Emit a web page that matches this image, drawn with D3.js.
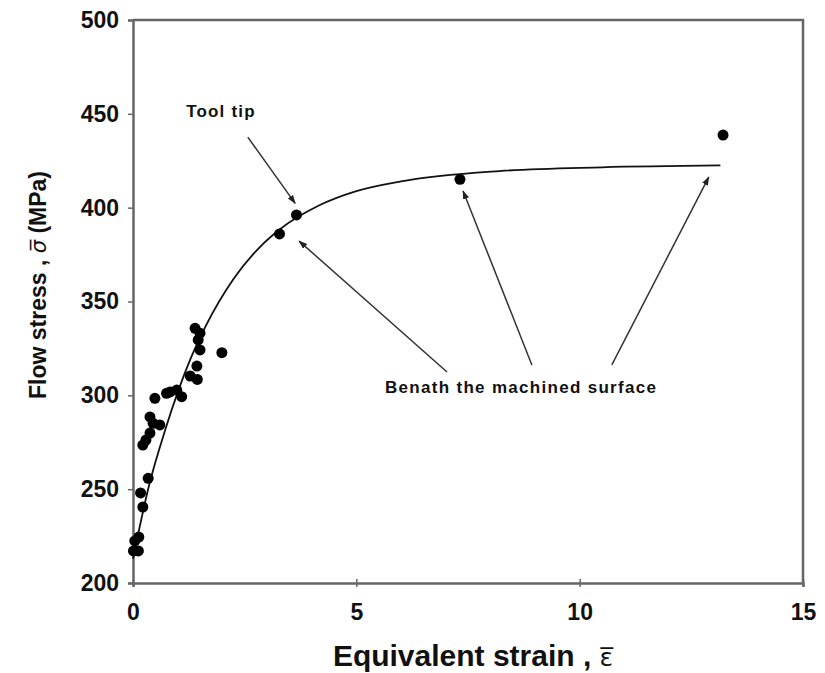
<!DOCTYPE html>
<html>
<head>
<meta charset="utf-8">
<script src="https://cdn.jsdelivr.net/npm/d3@7"></script>
<style>
  body { margin: 0; background: #fff; }
  svg { display: block; }
  text { font-family: "Liberation Sans", Arial, sans-serif; }
</style>
</head>
<body>
<svg id="chart" width="825" height="673"></svg>
<script>
// Measured flow stress (MPa) versus equivalent strain
const strain = [0.01, 0.12, 0.04, 0.13, 0.22, 0.17, 0.34, 0.22, 0.29, 0.38,
                0.45, 0.38, 0.60, 0.49, 0.75, 0.98, 1.09, 0.83, 1.28, 1.44,
                1.43, 1.50, 1.46, 1.50, 1.39, 1.99, 3.66, 3.28, 7.32, 13.21];
const stress = [217.1, 217.1, 222.4, 224.5, 240.5, 248.0, 255.8, 273.5, 276.2, 279.9,
                285.1, 288.5, 284.2, 298.4, 301.1, 302.8, 299.3, 301.8, 310.3, 308.5,
                315.6, 324.2, 329.5, 333.1, 335.7, 322.7, 396.1, 386.0, 415.1, 438.7];

// Fitted hardening curve
const fitStrain = [0, 0.37, 0.72, 1.28, 1.63, 2.25, 2.84, 3.29, 4.15, 5.0, 6.0, 8.2, 10.5, 13.15];
const fitStress = [213, 253, 281.5, 319, 337, 362, 379, 388.5, 401, 408.8, 414, 419.5, 421.5, 422.5];

const xTicks = [0, 5, 10, 15];
const yTicks = [200, 250, 300, 350, 400, 450, 500];

// Annotation arrows, in data units: [fromStrain, fromStress, toStrain, toStress]
const toolTipArrow = [2.57, 437.6, 3.63, 402.3];
const surfaceArrows = [
  [7.03, 312.4, 3.72, 382.2],
  [8.93, 316.2, 7.39, 408.9],
  [10.72, 316.2, 12.89, 416.3]
];

const W = 825, H = 673;
const margin = { top: 20, right: 22, bottom: 90, left: 133 };
const svg = d3.select("#chart");

const x = d3.scaleLinear().domain([0, 15]).range([margin.left, W - margin.right]);
const y = d3.scaleLinear().domain([200, 500]).range([H - margin.bottom, margin.top]);

const axisColor = "#666";

// Frame (top and right edges)
svg.append("path")
  .attr("d", `M${x(0)},${y(500)}H${x(15)}V${y(200)}`)
  .attr("fill", "none").attr("stroke", axisColor).attr("stroke-width", 2.5);

// X axis
const gx = svg.append("g")
  .attr("transform", `translate(0,${y(200)})`)
  .call(d3.axisBottom(x).tickValues(xTicks).tickSize(4).tickPadding(17));
gx.select(".domain").attr("stroke", axisColor).attr("stroke-width", 2.5);
gx.selectAll(".tick line").attr("y1", -4).attr("y2", 4).attr("stroke", axisColor).attr("stroke-width", 1.5);
gx.selectAll(".tick text")
  .attr("font-family", "Liberation Sans, Arial, sans-serif")
  .attr("font-size", 23).attr("font-weight", "bold").attr("fill", "#111");

// Y axis
const gy = svg.append("g")
  .attr("transform", `translate(${x(0)},0)`)
  .call(d3.axisLeft(y).tickValues(yTicks).tickSize(5).tickPadding(9));
gy.select(".domain").attr("stroke", axisColor).attr("stroke-width", 2.5);
gy.selectAll(".tick line").attr("stroke", axisColor).attr("stroke-width", 1.5);
gy.selectAll(".tick text")
  .attr("font-family", "Liberation Sans, Arial, sans-serif")
  .attr("font-size", 23).attr("font-weight", "bold").attr("fill", "#111");

// Axis titles
const xt = svg.append("text")
  .attr("x", 473).attr("y", 666)
  .attr("text-anchor", "middle")
  .attr("font-size", 30).attr("font-weight", "bold").attr("fill", "#111");
xt.append("tspan").text("Equivalent strain , ");
xt.append("tspan").attr("font-family", "DejaVu Sans").attr("font-weight", "normal")
  .attr("font-size", 25).text("\u03B5\u0305");

const yt = svg.append("text")
  .attr("transform", `translate(46,${285}) rotate(-90)`)
  .attr("text-anchor", "middle")
  .attr("font-size", 23).attr("font-weight", "bold").attr("fill", "#111");
yt.append("tspan").text("Flow stress , ");
yt.append("tspan").attr("font-family", "DejaVu Sans").attr("font-weight", "normal")
  .attr("font-style", "italic").attr("font-size", 21).text("\u03C3\u0305");
yt.append("tspan").text(" (MPa)");

// Fitted curve
const fit = fitStrain.map((e, i) => [e, fitStress[i]]);
svg.append("path")
  .datum(fit)
  .attr("fill", "none").attr("stroke", "#111").attr("stroke-width", 1.8)
  .attr("d", d3.line().x(d => x(d[0])).y(d => y(d[1])).curve(d3.curveMonotoneX));

// Data points
svg.append("g").selectAll("circle")
  .data(strain.map((e, i) => [e, stress[i]]))
  .join("circle")
  .attr("cx", d => x(d[0])).attr("cy", d => y(d[1]))
  .attr("r", 5.5).attr("fill", "#000");

// Arrowhead marker
svg.append("defs").append("marker")
  .attr("id", "head").attr("viewBox", "0 0 10 10")
  .attr("refX", 9).attr("refY", 5)
  .attr("markerWidth", 6).attr("markerHeight", 6)
  .attr("markerUnits", "strokeWidth")
  .attr("orient", "auto")
  .append("path").attr("d", "M0,1.5L10,5L0,8.5Z").attr("fill", "#222");

const arrows = [toolTipArrow, ...surfaceArrows];
svg.append("g").selectAll("line")
  .data(arrows)
  .join("line")
  .attr("x1", d => x(d[0])).attr("y1", d => y(d[1]))
  .attr("x2", d => x(d[2])).attr("y2", d => y(d[3]))
  .attr("stroke", "#333").attr("stroke-width", 1.5)
  .attr("marker-end", "url(#head)");

// Annotation labels
svg.append("text")
  .attr("x", x(1.97)).attr("y", y(448.5))
  .attr("text-anchor", "middle")
  .attr("font-size", 17).attr("font-weight", "bold").attr("fill", "#111")
  .attr("letter-spacing", 1.2)
  .text("Tool tip");

svg.append("text")
  .attr("x", x(8.69)).attr("y", y(301.2))
  .attr("text-anchor", "middle")
  .attr("font-size", 17).attr("font-weight", "bold").attr("fill", "#111")
  .attr("letter-spacing", 1.3)
  .text("Benath the machined surface");
</script>
</body>
</html>
